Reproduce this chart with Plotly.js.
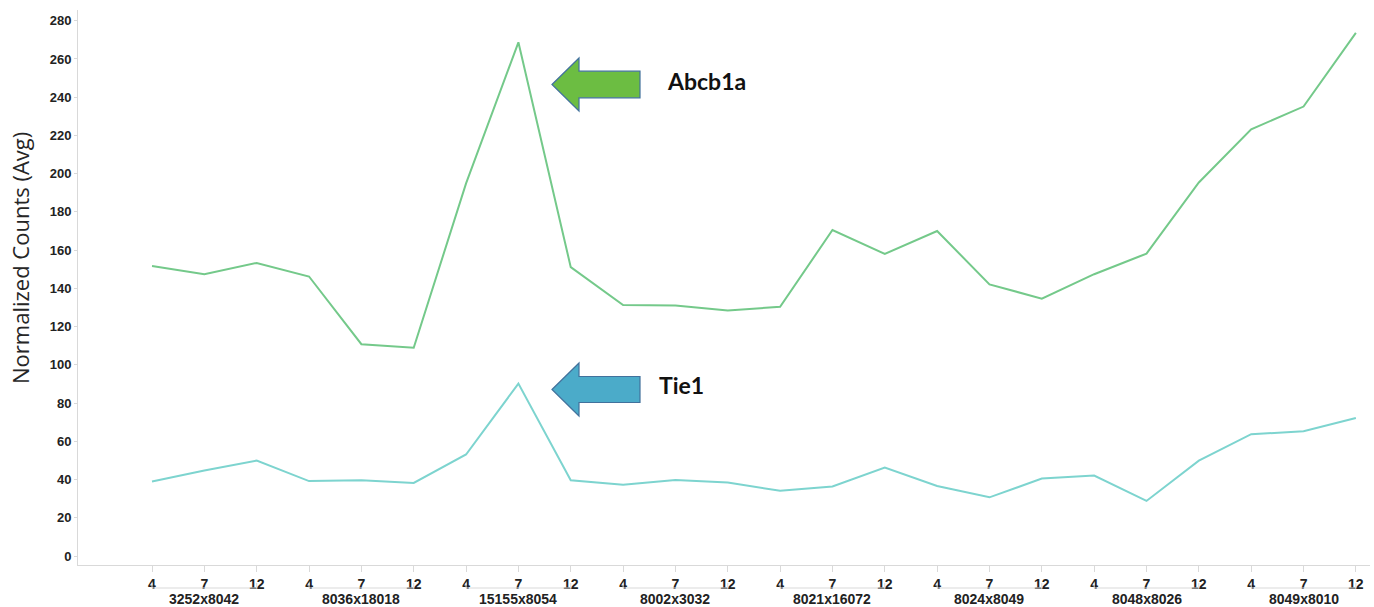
<!DOCTYPE html>
<html>
<head>
<meta charset="utf-8">
<script src="https://cdn.plot.ly/plotly-3.0.1.min.js"></script>
<style>html,body{margin:0;padding:0;background:#fff;}#chart{width:1374px;height:607px;}</style>
</head>
<body>
<div id="chart"></div>
<script>
// ---- data ----
const groups = ['3252x8042','8036x18018','15155x8054','8002x3032','8021x16072','8024x8049','8048x8026','8049x8010'];
const times = ['4','7','12'];
const abcb1a = [151.7,147.4,153.3, 146.2,110.8,108.9, 194.9,268.7,151.1, 131.3,131.0,128.4,
                130.4,170.5,158.0, 170.0,142.1,134.6, 147.4,158.2,195.4, 223.2,235.1,273.6];
const tie1   = [39.0,44.7,49.9, 39.2,39.6,38.2, 53.1,90.2,39.6, 37.3,39.7,38.4,
                34.1,36.4,46.3, 36.6,30.7,40.5, 42.1,28.8,49.9, 63.7,65.3,72.2];
const yTicks = [0,20,40,60,80,100,120,140,160,180,200,220,240,260,280];
const yTitle = 'Normalized Counts (Avg)';

// ---- build x positions / labels ----
const xIdx = [], xText = [];
groups.forEach((g, gi) => times.forEach((t, ti) => { xIdx.push(gi * times.length + ti); xText.push(t); }));

const W = 1374, H = 607;
const M = {l: 78, r: 4, t: 10, b: 42};
const pw = W - M.l - M.r, ph = H - M.t - M.b;
const px2x = px => (px - M.l) / pw;
const py2y = py => (H - M.b - py) / ph;

const shapes = [];
const annotations = [];
const grey = '#d9d9d9';
// group brackets and labels
groups.forEach((g, gi) => {
  const a = gi * times.length, b = a + times.length - 1;
  const yb = py2y(588), yt = py2y(583);
  shapes.push({type: 'path', xref: 'x', yref: 'paper',
    path: `M ${a} ${yt} L ${a} ${yb} L ${b} ${yb} L ${b} ${yt}`,
    line: {color: grey, width: 1}});
  annotations.push({x: (a + b) / 2, xref: 'x', y: py2y(599), yref: 'paper', text: g, showarrow: false,
    xanchor: 'center', yanchor: 'middle',
    font: {family: 'Liberation Sans, Arial, sans-serif', size: 14, color: '#222', weight: 'bold'}});
});

// block arrows (decorations)
function arrow(tipX, tipY, headX, headHalf, shaftHalf, tailX, fill) {
  const P = (x, y) => `${px2x(x)} ${py2y(y)}`;
  const path = `M ${P(tipX, tipY)} L ${P(headX, tipY - headHalf)} L ${P(headX, tipY - shaftHalf)} L ${P(tailX, tipY - shaftHalf)} L ${P(tailX, tipY + shaftHalf)} L ${P(headX, tipY + shaftHalf)} L ${P(headX, tipY + headHalf)} Z`;
  shapes.push({type: 'path', xref: 'paper', yref: 'paper', path: path, fillcolor: fill,
    line: {color: '#41719c', width: 1.2}});
}
arrow(552, 84.5, 579, 26.5, 13.3, 640, '#6cbd42');
arrow(552, 389.5, 579, 26.5, 13, 640, '#4babc9');

annotations.push({x: px2x(706), xref: 'paper', y: py2y(81), yref: 'paper', text: 'Abcb1a', showarrow: false,
  xanchor: 'center', yanchor: 'middle', font: {family: 'Lato, sans-serif', size: 23, color: '#111', weight: 'bold'}});
annotations.push({x: px2x(681), xref: 'paper', y: py2y(385), yref: 'paper', text: 'Tie1', showarrow: false,
  xanchor: 'center', yanchor: 'middle', font: {family: 'Lato, sans-serif', size: 23, color: '#111', weight: 'bold'}});
// y-axis title (placed as in the reference, above the plot's vertical centre)
annotations.push({x: px2x(20), xref: 'paper', y: py2y(258), yref: 'paper', text: yTitle, textangle: -90,
  showarrow: false, xanchor: 'center', yanchor: 'middle',
  font: {family: 'Open Sans, sans-serif', size: 22, color: '#262626'}});

const traces = [
  {x: xIdx, y: abcb1a, type: 'scatter', mode: 'lines', name: 'Abcb1a', line: {color: '#74c98a', width: 2}},
  {x: xIdx, y: tie1, type: 'scatter', mode: 'lines', name: 'Tie1', line: {color: '#7dd4cf', width: 2}}
];

const layout = {
  width: W, height: H, margin: M, showlegend: false,
  paper_bgcolor: '#fff', plot_bgcolor: '#fff',
  xaxis: {range: [-1.414, 23.27], tickvals: xIdx, ticktext: xText, showgrid: false, zeroline: false,
    showline: true, linecolor: grey, linewidth: 1, ticks: 'outside', ticklen: 6, tickcolor: grey,
    tickfont: {family: 'Liberation Sans, Arial, sans-serif', size: 14, color: '#222', weight: 'bold'}},
  yaxis: {range: [-4.7, 285.6], tickvals: yTicks, showgrid: false, zeroline: false,
    showline: true, linecolor: grey, linewidth: 1, ticks: 'outside', ticklen: 3, tickcolor: grey,
    tickfont: {family: 'Liberation Sans, Arial, sans-serif', size: 13, color: '#222', weight: 'bold'}},
  shapes: shapes, annotations: annotations
};

Plotly.newPlot('chart', traces, layout, {displayModeBar: false, staticPlot: true});
</script>
</body>
</html>
